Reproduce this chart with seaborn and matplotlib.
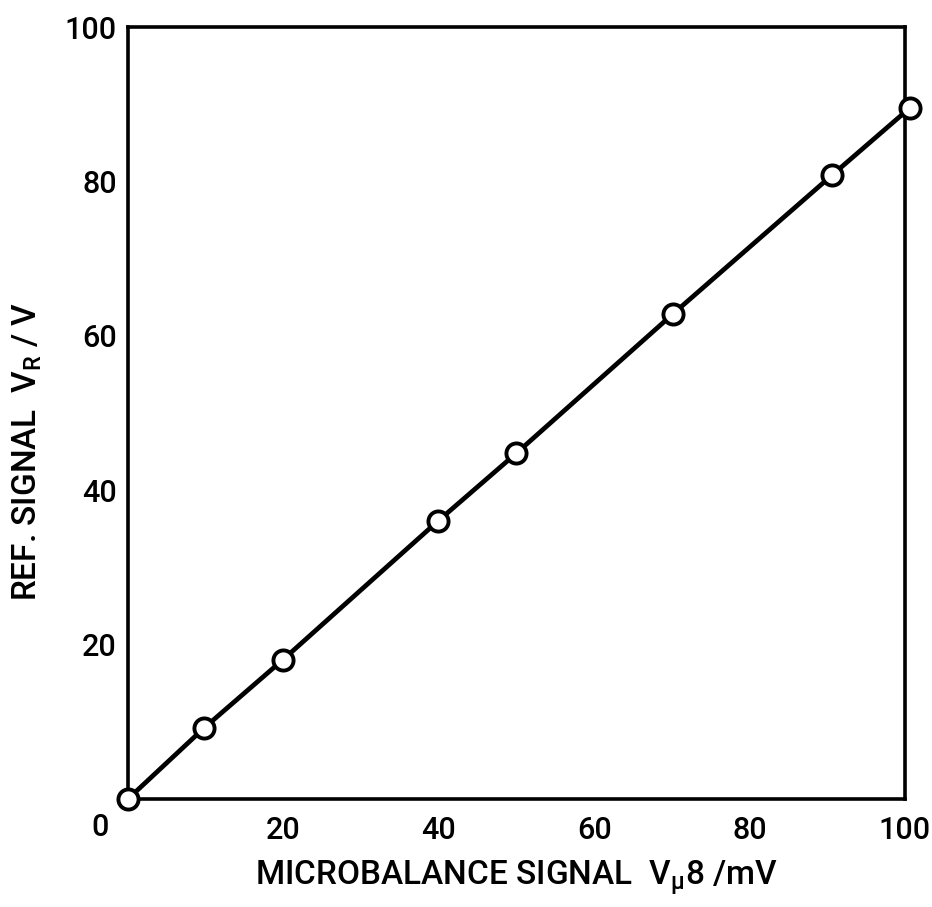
import matplotlib
matplotlib.use("Agg")
import matplotlib.pyplot as plt
import seaborn as sns
import pandas as pd
from matplotlib import font_manager

# ---- data ----
microbalance_mV = [0.0, 9.8, 19.9, 39.9, 50.0, 70.1, 90.6, 100.6]
ref_signal_V = [0.0, 9.2, 18.0, 36.0, 44.8, 62.8, 80.8, 89.5]
x_tick_values = [20, 40, 60, 80, 100]
x_tick_labels = ["20", "40", "60", "80", "100"]
y_tick_values = [20, 40, 60, 80, 100]
y_tick_labels = ["20", "40", "60", "80", "100"]
x_label = r"MICROBALANCE SIGNAL  V$_{\mu}$8 /mV"
y_label = r"REF. SIGNAL  V$_{R}$ / V"

df = pd.DataFrame({"x": microbalance_mV, "y": ref_signal_V})

sns.set_theme(style="white")
available = {f.name for f in font_manager.fontManager.ttflist}
family = "Roboto" if "Roboto" in available else "DejaVu Sans"
plt.rcParams["font.family"] = [family, "DejaVu Sans"]
plt.rcParams["font.weight"] = "medium"
plt.rcParams["mathtext.fontset"] = "custom"
plt.rcParams["mathtext.rm"] = f"{family}:medium"
plt.rcParams["mathtext.it"] = f"{family}:medium"

fig = plt.figure(figsize=(9.32, 9.07), dpi=100)
ax = fig.add_axes([0.1373, 0.1191, 0.8337, 0.8511])

sns.lineplot(data=df, x="x", y="y", ax=ax, color="black", linewidth=3.4,
             marker="o", markersize=14.5, markerfacecolor="white",
             markeredgecolor="black", markeredgewidth=2.8, clip_on=False,
             zorder=5)

ax.set_xlim(0, 100)
ax.set_ylim(0, 100)
ax.set_xticks(x_tick_values)
ax.set_xticklabels(x_tick_labels)
ax.set_yticks(y_tick_values)
ax.set_yticklabels(y_tick_labels)

for s in ax.spines.values():
    s.set_visible(True)
    s.set_color("black")
    s.set_linewidth(2.6)

ax.tick_params(axis="both", which="major", direction="in", length=13,
               width=2.4, color="black", labelsize=22, labelcolor="black")
ax.tick_params(axis="x", pad=12)
ax.tick_params(axis="y", pad=8)

ax.set_xlabel(x_label, fontsize=24, color="black", labelpad=10,
              fontweight="medium")
ax.set_ylabel(y_label, fontsize=24, color="black", fontweight="medium")
ax.yaxis.set_label_coords(-0.108, 0.45)

ax.annotate("0", xy=(0, 0), xycoords="data", xytext=(-28, -29),
            textcoords="offset pixels", ha="center", va="center",
            fontsize=22, color="black", annotation_clip=False,
            fontweight="medium")

ax.grid(False)
fig.savefig("out.png", dpi=100, facecolor="white")
